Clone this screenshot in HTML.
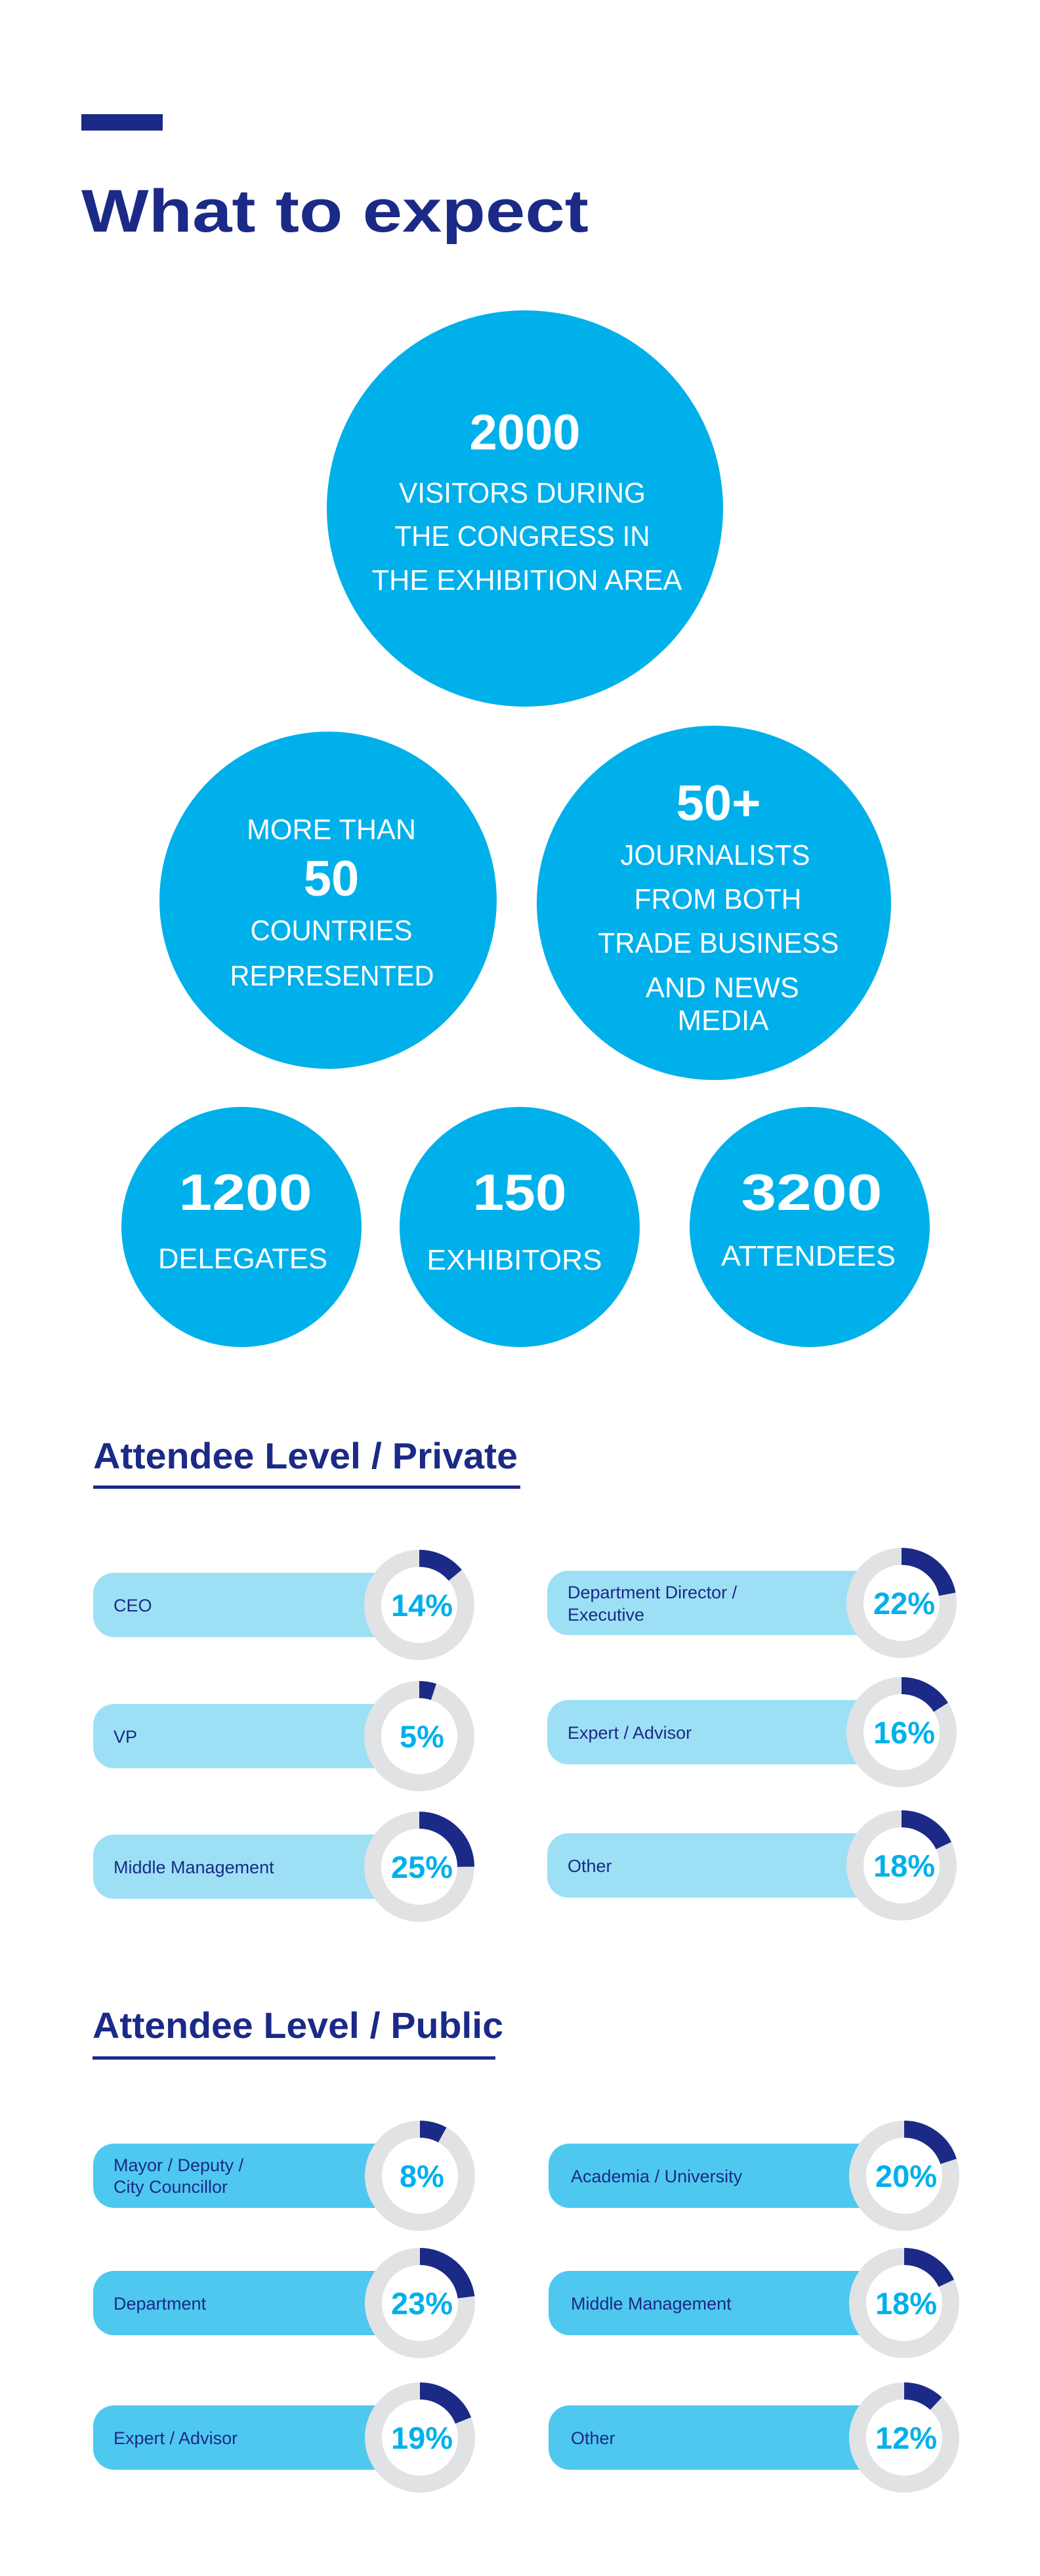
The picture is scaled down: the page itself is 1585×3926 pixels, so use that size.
<!DOCTYPE html>
<html><head><meta charset="utf-8"><style>
html,body{margin:0;padding:0;background:#fff;}
svg{display:block;}
text{font-family:"Liberation Sans",sans-serif;}
</style></head><body>
<svg width="1585" height="3926" viewBox="0 0 1585 3926" xmlns="http://www.w3.org/2000/svg">
<rect x="124" y="174" width="124" height="25" fill="#1b2a86"/>
<text x="124" y="353" font-size="92" font-weight="bold" fill="#1b2a86" textLength="773" lengthAdjust="spacingAndGlyphs">What to expect</text>

<g fill="#00b0ea">
<circle cx="800" cy="775" r="302"/>
<circle cx="500" cy="1372" r="257"/>
<circle cx="1088" cy="1376" r="270"/>
<circle cx="368" cy="1870" r="183"/>
<circle cx="792" cy="1870" r="183"/>
<circle cx="1234" cy="1870" r="183"/>
</g>
<g fill="#fff" text-anchor="middle">
<text x="800" y="685" font-size="76" font-weight="bold">2000</text>
<text x="796" y="766" font-size="44" textLength="376" lengthAdjust="spacingAndGlyphs">VISITORS DURING</text>
<text x="796" y="832" font-size="44" textLength="389" lengthAdjust="spacingAndGlyphs">THE CONGRESS IN</text>
<text x="803" y="899" font-size="44" textLength="473" lengthAdjust="spacingAndGlyphs">THE EXHIBITION AREA</text>

<text x="505" y="1279" font-size="44" textLength="258" lengthAdjust="spacingAndGlyphs">MORE THAN</text>
<text x="505" y="1365" font-size="76" font-weight="bold">50</text>
<text x="505" y="1433" font-size="44" textLength="247" lengthAdjust="spacingAndGlyphs">COUNTRIES</text>
<text x="506" y="1502" font-size="44" textLength="311" lengthAdjust="spacingAndGlyphs">REPRESENTED</text>

<text x="1095" y="1250" font-size="76" font-weight="bold">50+</text>
<text x="1090" y="1318" font-size="44" textLength="289" lengthAdjust="spacingAndGlyphs">JOURNALISTS</text>
<text x="1094" y="1385" font-size="44" textLength="255" lengthAdjust="spacingAndGlyphs">FROM BOTH</text>
<text x="1095" y="1452" font-size="44" textLength="367" lengthAdjust="spacingAndGlyphs">TRADE BUSINESS</text>
<text x="1101" y="1520" font-size="44" textLength="234" lengthAdjust="spacingAndGlyphs">AND NEWS</text>
<text x="1102" y="1570" font-size="44" textLength="139" lengthAdjust="spacingAndGlyphs">MEDIA</text>

<text x="374" y="1844" font-size="78" font-weight="bold" textLength="203" lengthAdjust="spacingAndGlyphs">1200</text>
<text x="792" y="1844" font-size="78" font-weight="bold" textLength="143" lengthAdjust="spacingAndGlyphs">150</text>
<text x="1237" y="1844" font-size="78" font-weight="bold" textLength="215" lengthAdjust="spacingAndGlyphs">3200</text>
<text x="370" y="1933" font-size="44" textLength="258" lengthAdjust="spacingAndGlyphs">DELEGATES</text>
<text x="784" y="1935" font-size="44" textLength="267" lengthAdjust="spacingAndGlyphs">EXHIBITORS</text>
<text x="1232" y="1929" font-size="44" textLength="266" lengthAdjust="spacingAndGlyphs">ATTENDEES</text>
</g>

<text x="142" y="2238" font-size="56" font-weight="bold" fill="#1b2a86" textLength="647" lengthAdjust="spacingAndGlyphs">Attendee Level / Private</text>
<rect x="142" y="2264" width="651" height="5" fill="#1b2a86"/>

<text x="141" y="3106" font-size="56" font-weight="bold" fill="#1b2a86" textLength="626" lengthAdjust="spacingAndGlyphs">Attendee Level / Public</text>
<rect x="141" y="3134" width="614" height="5" fill="#1b2a86"/>

<!-- bars -->
<g fill="#9de0f5">
<rect x="142" y="2397" width="500" height="98" rx="32"/>
<rect x="142" y="2597" width="500" height="98" rx="32"/>
<rect x="142" y="2796" width="500" height="98" rx="32"/>
<rect x="834" y="2394" width="540" height="98" rx="32"/>
<rect x="834" y="2591" width="540" height="98" rx="32"/>
<rect x="834" y="2794" width="540" height="98" rx="32"/>
</g>
<g fill="#4fc8f0">
<rect x="142" y="3267" width="500" height="98" rx="32"/>
<rect x="142" y="3461" width="500" height="98" rx="32"/>
<rect x="142" y="3666" width="500" height="98" rx="32"/>
<rect x="836" y="3267" width="540" height="98" rx="32"/>
<rect x="836" y="3461" width="540" height="98" rx="32"/>
<rect x="836" y="3666" width="540" height="98" rx="32"/>
</g>

<!-- donuts: r=71, circumference 446.1 -->
<g fill="#fff" stroke="#e1e2e4" stroke-width="26">
<circle cx="639" cy="2446" r="71"/><circle cx="639" cy="2646" r="71"/><circle cx="639" cy="2845" r="71"/>
<circle cx="1374" cy="2443" r="71"/><circle cx="1374" cy="2640" r="71"/><circle cx="1374" cy="2843" r="71"/>
<circle cx="640" cy="3316" r="71"/><circle cx="640" cy="3510" r="71"/><circle cx="640" cy="3715" r="71"/>
<circle cx="1378" cy="3316" r="71"/><circle cx="1378" cy="3510" r="71"/><circle cx="1378" cy="3715" r="71"/>
</g>
<g fill="none" stroke="#1b2a86" stroke-width="26">
<circle cx="639" cy="2446" r="71" stroke-dasharray="62.5 1000" transform="rotate(-90 639 2446)"/>
<circle cx="639" cy="2646" r="71" stroke-dasharray="22.3 1000" transform="rotate(-90 639 2646)"/>
<circle cx="639" cy="2845" r="71" stroke-dasharray="111.5 1000" transform="rotate(-90 639 2845)"/>
<circle cx="1374" cy="2443" r="71" stroke-dasharray="98.1 1000" transform="rotate(-90 1374 2443)"/>
<circle cx="1374" cy="2640" r="71" stroke-dasharray="71.4 1000" transform="rotate(-90 1374 2640)"/>
<circle cx="1374" cy="2843" r="71" stroke-dasharray="80.3 1000" transform="rotate(-90 1374 2843)"/>
<circle cx="640" cy="3316" r="71" stroke-dasharray="35.7 1000" transform="rotate(-90 640 3316)"/>
<circle cx="640" cy="3510" r="71" stroke-dasharray="102.6 1000" transform="rotate(-90 640 3510)"/>
<circle cx="640" cy="3715" r="71" stroke-dasharray="84.8 1000" transform="rotate(-90 640 3715)"/>
<circle cx="1378" cy="3316" r="71" stroke-dasharray="89.2 1000" transform="rotate(-90 1378 3316)"/>
<circle cx="1378" cy="3510" r="71" stroke-dasharray="80.3 1000" transform="rotate(-90 1378 3510)"/>
<circle cx="1378" cy="3715" r="71" stroke-dasharray="53.5 1000" transform="rotate(-90 1378 3715)"/>
</g>

<!-- percents -->
<g fill="#00b0ea" font-size="47" font-weight="bold" text-anchor="middle">
<text x="643" y="2463">14%</text><text x="643" y="2663">5%</text><text x="643" y="2862">25%</text>
<text x="1378" y="2460">22%</text><text x="1378" y="2657">16%</text><text x="1378" y="2860">18%</text>
<text x="643" y="3333">8%</text><text x="643" y="3527">23%</text><text x="643" y="3732">19%</text>
<text x="1381" y="3333">20%</text><text x="1381" y="3527">18%</text><text x="1381" y="3732">12%</text>
</g>

<!-- labels -->
<g fill="#1b2a86" font-size="27">
<text x="173" y="2456">CEO</text>
<text x="173" y="2656">VP</text>
<text x="173" y="2855">Middle Management</text>
<text x="865" y="2436">Department Director /</text>
<text x="865" y="2470">Executive</text>
<text x="865" y="2650">Expert / Advisor</text>
<text x="865" y="2853">Other</text>
<text x="173" y="3309">Mayor / Deputy /</text>
<text x="173" y="3342">City Councillor</text>
<text x="173" y="3520">Department</text>
<text x="173" y="3725">Expert / Advisor</text>
<text x="870" y="3326">Academia /  University</text>
<text x="870" y="3520">Middle Management</text>
<text x="870" y="3725">Other</text>
</g>
</svg>
</body></html>
